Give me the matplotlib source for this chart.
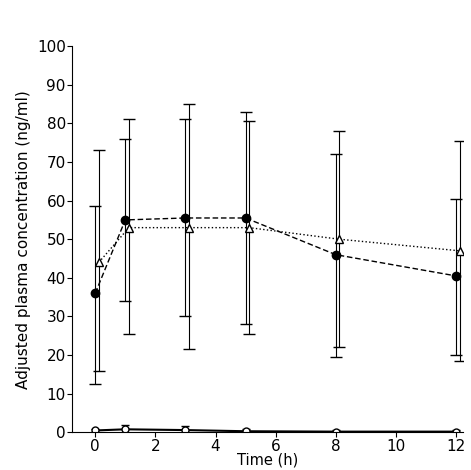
import numpy as np
import matplotlib.pyplot as plt

time = [0, 1, 3, 5, 8, 12]
circ = [36, 55, 55.5, 55.5, 46, 40.5]
circ_lo = [12.5, 34, 30, 28, 19.5, 20]
circ_hi = [58.5, 76, 81, 83, 72, 60.5]
tri = [44, 53, 53, 53, 50, 47]
tri_lo = [16, 25.5, 21.5, 25.5, 22, 18.5]
tri_hi = [73, 81, 85, 80.5, 78, 75.5]
low = [0.5, 0.8, 0.6, 0.3, 0.2, 0.2]
low_err = [0.5, 1.2, 1.0, 0.5, 0.3, 0.3]

fig = plt.figure(figsize=(4.71, 4.70), dpi=100)
ax = fig.add_axes([0.153, 0.08, 0.83, 0.822])

t = np.array(time)
c = np.array(circ); tr = np.array(tri)
ax.errorbar(t, c, yerr=[c - np.array(circ_lo), np.array(circ_hi) - c], fmt='o--',
            color='black', mfc='black', ms=6, lw=1, capsize=4, elinewidth=0.8, dashes=(4, 2))
ax.errorbar(t + 0.12, tr, yerr=[tr - np.array(tri_lo), np.array(tri_hi) - tr], fmt='^:',
            color='black', mfc='white', ms=6, lw=1, capsize=4, elinewidth=0.8)
ax.errorbar(t, low, yerr=low_err, fmt='o-', color='black', mfc='white', ms=5, lw=1.5,
            capsize=3, elinewidth=0.8)

ax.set_xlim(-0.77, 12.23)
ax.set_ylim(0, 100)
ax.set_xticks(range(0, 13, 2))
ax.set_yticks(range(0, 101, 10))
ax.spines['top'].set_visible(False)
ax.spines['right'].set_visible(False)
ax.tick_params(labelsize=11, direction='out', pad=1)
ax.set_xlabel('Time (h)', fontsize=10.5, labelpad=-1)
ax.set_ylabel('Adjusted plasma concentration (ng/ml)', fontsize=11)
fig.savefig('out.png')
